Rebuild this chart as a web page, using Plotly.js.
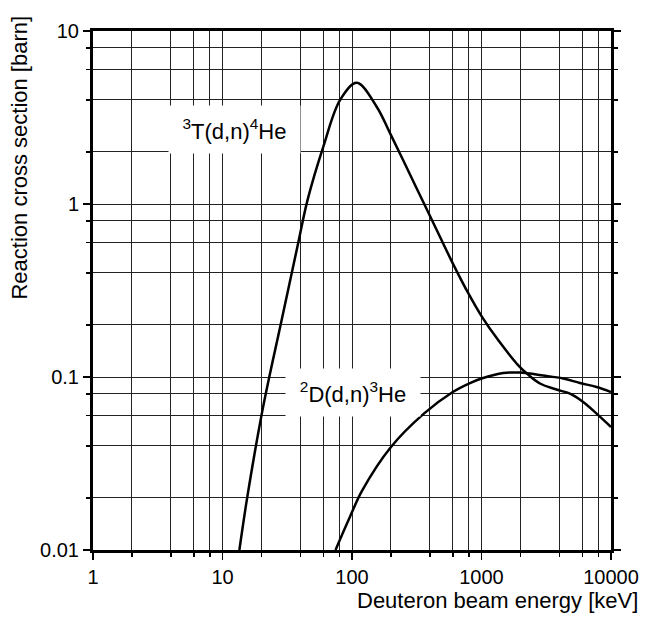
<!DOCTYPE html>
<html>
<head>
<meta charset="utf-8">
<script src="https://cdn.plot.ly/plotly-3.0.1.min.js"></script>
<style>html,body{margin:0;padding:0;background:#fff;}#chart{width:645px;height:621px;}</style>
</head>
<body>
<div id="chart"></div>
<script>
// Deuteron beam energy [keV] and reaction cross section [barn]
const tEnergy = [13.5, 15.5, 20.0, 23.3, 27.9, 38.6, 45.3, 60, 81, 109, 155, 197, 316, 401, 600, 800, 1000, 1349, 1982, 2233, 2828, 3800, 4820, 6100, 7740, 10000];
const tSigma  = [0.01, 0.02, 0.06, 0.105, 0.195, 0.605, 1.05, 2.14, 4.0, 5.02, 3.65, 2.56, 1.23, 0.85, 0.454, 0.30, 0.225, 0.163, 0.114, 0.105, 0.0917, 0.0846, 0.0801, 0.0717, 0.0614, 0.0514];

const dEnergy = [74.6, 96.3, 120, 200, 359, 600, 815, 1000, 1473, 1982, 3000, 4276, 5754, 7740, 10000];
const dSigma  = [0.01, 0.0155, 0.0221, 0.0394, 0.0614, 0.0819, 0.0923, 0.098, 0.1055, 0.106, 0.102, 0.098, 0.0923, 0.0876, 0.0819];

const xMajor = [1, 10, 100, 1000, 10000];
const xMajorText = ["1", "10", "100", "1000", "10000"];
const yMajor = [0.01, 0.1, 1, 10];
const yMajorText = ["0.01", "0.1", "1", "10"];
const minorMult = [2, 4, 6, 8];

const labelT = "<sup>3</sup>T(d,n)<sup>4</sup>He";
const labelD = "<sup>2</sup>D(d,n)<sup>3</sup>He";
const xTitle = "Deuteron beam energy [keV]";
const yTitle = "Reaction cross section [barn]";

function minorVals(majors) {
  const out = [];
  majors.slice(0, -1).forEach(m => minorMult.forEach(k => out.push(m * k)));
  return out;
}

const FONT = "Liberation Sans, Arial, Helvetica, sans-serif";
const lineStyle = {color: "#000", width: 2.5, shape: "spline", smoothing: 1};

const traces = [
  {x: tEnergy, y: tSigma, mode: "lines", line: lineStyle, hoverinfo: "skip", showlegend: false},
  {x: dEnergy, y: dSigma, mode: "lines", line: lineStyle, hoverinfo: "skip", showlegend: false}
];

const gridColor = "#222";
const axisCommon = {
  type: "log",
  tickmode: "array",
  showline: true, linecolor: "#000", linewidth: 3,
  ticks: "outside", ticklen: 7, tickwidth: 1.5, tickcolor: "#000",
  showgrid: true, gridcolor: gridColor, gridwidth: 1,
  zeroline: false,
  tickfont: {family: FONT, size: 20, color: "#000"}
};

const layout = {
  width: 645, height: 621,
  margin: {l: 93, r: 34, t: 31, b: 71},
  paper_bgcolor: "#fff", plot_bgcolor: "#fff",
  font: {family: FONT, color: "#000"},
  showlegend: false,
  xaxis: Object.assign({}, axisCommon, {
    range: [0, 4],
    tickvals: xMajor, ticktext: xMajorText,
    mirror: true,
    minor: {tickmode: "array", tickvals: minorVals(xMajor), ticks: "outside", ticklen: 4, tickwidth: 1.5, tickcolor: "#000", showgrid: true, gridcolor: gridColor, gridwidth: 1}
  }),
  yaxis: Object.assign({}, axisCommon, {
    range: [-2, 1],
    tickvals: yMajor, ticktext: yMajorText,
    mirror: "ticks",
    minor: {tickmode: "array", tickvals: minorVals(yMajor), ticks: "outside", ticklen: 4, tickwidth: 1.5, tickcolor: "#000", showgrid: true, gridcolor: gridColor, gridwidth: 1}
  }),
  annotations: [
    {x: Math.log10(12.42), y: Math.log10(2.70), xref: "x", yref: "y", text: labelT, showarrow: false,
     font: {family: FONT, size: 22, color: "#000"}, bgcolor: "#fff", borderpad: 0, width: 131, height: 47,
     xanchor: "center", yanchor: "middle", align: "center", valign: "middle"},
    {x: Math.log10(102), y: Math.log10(0.081), xref: "x", yref: "y", text: labelD, showarrow: false,
     font: {family: FONT, size: 22, color: "#000"}, bgcolor: "#fff", borderpad: 0, width: 134, height: 47,
     xanchor: "center", yanchor: "middle", align: "center", valign: "middle"},
    {x: 1.056, y: -0.098, xref: "paper", yref: "paper", text: xTitle, showarrow: false,
     font: {family: FONT, size: 22, color: "#000"}, xanchor: "right", yanchor: "middle"},
    {x: -0.142, y: 0.757, xref: "paper", yref: "paper", text: yTitle, showarrow: false, textangle: -90,
     font: {family: FONT, size: 22, color: "#000"}, xanchor: "center", yanchor: "middle"}
  ]
};

Plotly.newPlot("chart", traces, layout, {staticPlot: true, displayModeBar: false});
</script>
</body>
</html>
